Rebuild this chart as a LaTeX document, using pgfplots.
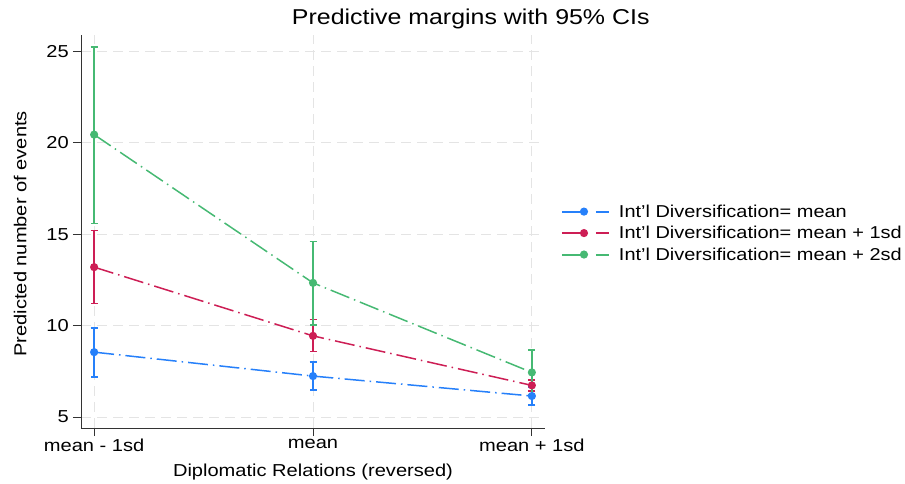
\documentclass[border=0pt]{standalone}
\usepackage{fontspec}
\setmainfont{Liberation Sans}[FakeStretch=1.16]
\usepackage{pgfplots}
\pgfplotsset{compat=1.18}
\definecolor{cblue}{RGB}{38,128,250}
\definecolor{cred}{RGB}{205,30,85}
\definecolor{cgreen}{RGB}{70,185,115}
\definecolor{gridc}{RGB}{228,228,228}
\begin{document}
\begin{tikzpicture}
\useasboundingbox (0,0) rectangle (905pt,483pt);
\begin{axis}[
  at={(81pt,55pt)}, anchor=south west,
  scale only axis, width=464pt, height=393pt,
  xmin=-0.06, xmax=2.06, ymin=4.4, ymax=25.9,
  axis x line*=bottom, axis y line*=left,
  axis line style={black!80, line width=0.9pt},
  xtick={0,1,2}, xticklabels={mean - 1sd, mean, mean + 1sd},
  ytick={5,10,15,20,25},
  tick align=outside, major tick length=8pt,
  tick style={black!80, line width=0.9pt},
  /pgf/number format/assume math mode=true,
  tick label style={font=\fontsize{17.3}{20}\selectfont},
  xticklabel style={inner sep=2pt, yshift=-1pt},
  yticklabel style={inner sep=2pt, xshift=-2pt},
  grid=major,
  major grid style={gridc, line width=0.8pt, dash pattern=on 10pt off 6pt},
  xlabel={Diplomatic Relations (reversed)},
  ylabel={Predicted number of events},
  label style={font=\fontsize{17.3}{20}\selectfont},
  xlabel style={at={(0.5,-0.112)}, anchor=center},
  ylabel style={at={(-0.131,0.494)}, anchor=center},
  title={Predictive margins with 95\% CIs},
  title style={at={(0.84,1.026)}, anchor=center, font=\fontsize{21.5}{24}\selectfont},
  legend style={at={(1.034,0.496)}, anchor=west, draw=none, fill=none,
    font=\fontsize{17.2}{20}\selectfont, row sep=3.5pt, inner sep=0pt},
  legend cell align=left,
  legend image code/.code={
    \begin{scope}[#1]
    \pgfsetlinewidth{2pt}
    \pgfsetdash{}{0pt}
    \draw (0pt,0pt) -- (22pt,0pt);
    \draw (34pt,0pt) -- (47pt,0pt);
    \end{scope}
    \fill[#1,solid] (22pt,0pt) circle[radius=3.3pt];
    \path[draw=none,fill=none] (0pt,-4pt) rectangle (55pt,4pt);
  },
  every axis plot/.append style={line width=1.5pt,
    dash pattern=on 20pt off 5pt on 1.5pt off 5pt,
    mark=*, mark size=3.3pt, mark options={solid},
    error bars/error bar style={solid, line width=1.4pt},
    error bars/error mark options={rotate=90, mark size=3.5pt, line width=1.4pt, solid}},
]
\addplot[cblue, line width=1.5pt, error bars/.cd, y dir=both, y explicit]
  table[x=x, y=y, y error plus=ep, y error minus=em] {
x y ep em
0 8.55 1.33 1.35
1 7.24 0.76 0.77
2 6.15 0.50 0.50
};
\addlegendentry{Int'l Diversification= mean}
\addplot[cred, line width=1.5pt, error bars/.cd, y dir=both, y explicit]
  table[x=x, y=y, y error plus=ep, y error minus=em] {
x y ep em
0 13.20 2.00 2.00
1 9.44 0.90 0.87
2 6.73 0.30 0.30
};
\addlegendentry{Int'l Diversification= mean + 1sd}
\addplot[cgreen, line width=1.5pt, error bars/.cd, y dir=both, y explicit]
  table[x=x, y=y, y error plus=ep, y error minus=em] {
x y ep em
0 20.45 4.80 4.87
1 12.34 2.26 2.30
2 7.44 1.22 1.20
};
\addlegendentry{Int'l Diversification= mean + 2sd}
\end{axis}
\end{tikzpicture}
\end{document}
